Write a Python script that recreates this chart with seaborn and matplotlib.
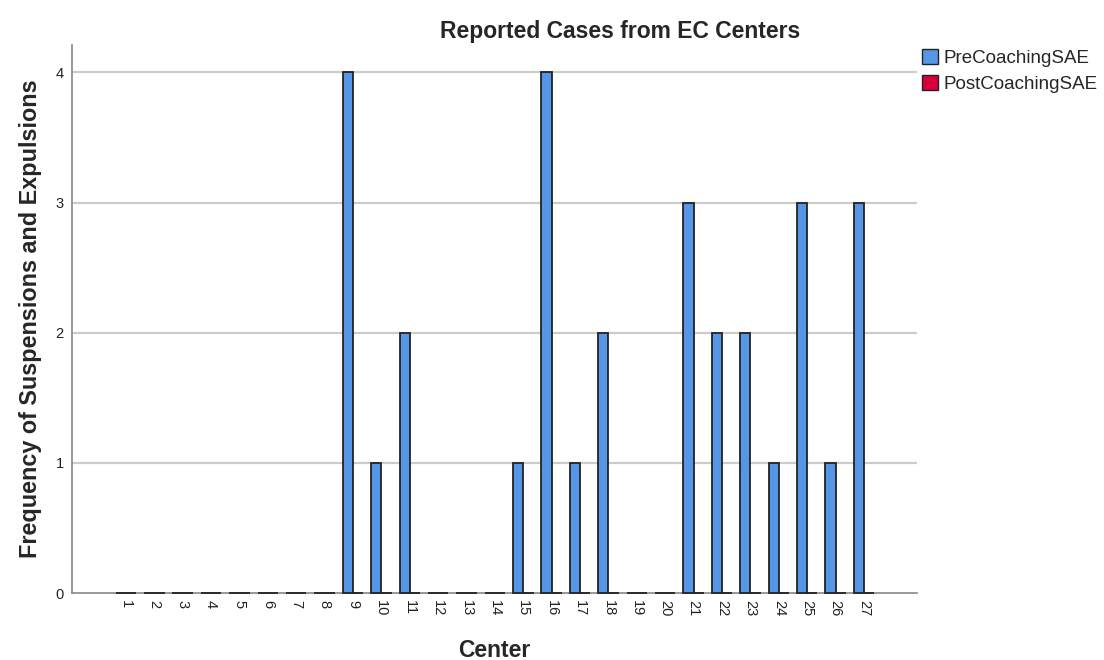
import pandas as pd
import matplotlib
matplotlib.use("Agg")
import matplotlib.pyplot as plt
import matplotlib.patches as mpatches
import seaborn as sns

# Data per center
centers = [str(i) for i in range(1, 28)]
pre_sae = [0, 0, 0, 0, 0, 0, 0, 0, 4, 1, 2, 0, 0, 0, 1, 4, 1, 2, 0, 0, 3, 2, 2, 1, 3, 1, 3]
post_sae = [0] * 27
series_names = ["PreCoachingSAE", "PostCoachingSAE"]
colors = ["#5596E6", "#D7003A"]

df = pd.DataFrame({
    "Center": centers * 2,
    "Value": pre_sae + post_sae,
    "Series": [series_names[0]] * 27 + [series_names[1]] * 27,
})

sns.set_style("white")
plt.rcParams["font.family"] = ["Liberation Sans", "DejaVu Sans"]

fig = plt.figure(figsize=(11.04, 6.6), dpi=100)
ax = fig.add_axes([0.0652, 0.1015, 0.7654, 0.8303])

# horizontal grid lines
for yv in [1, 2, 3, 4]:
    ax.axhline(yv, color="#cccccc", lw=1.6, zorder=0)

sns.barplot(
    data=df, x="Center", y="Value", hue="Series",
    order=centers, hue_order=series_names, palette=colors,
    width=0.72, edgecolor="#222222", linewidth=1.3,
    saturation=1, legend=False, ax=ax,
)
for p in ax.patches:
    p.set_zorder(3)
    p.set_clip_on(False)

ax.set_ylim(0, 4.21)
ax.set_xlim(-1.9, 27.87)
ax.set_yticks([0, 1, 2, 3, 4])
ax.tick_params(axis="y", labelsize=10.5, length=0, pad=6, labelcolor="#222222")
ax.tick_params(axis="x", labelsize=10.5, length=0, pad=5, labelcolor="#222222")
for lab in ax.get_xticklabels():
    lab.set_rotation(-90)
    lab.set_va("top")

for s in ["top", "right"]:
    ax.spines[s].set_visible(False)
for s in ["left", "bottom"]:
    ax.spines[s].set_color("#888888")
    ax.spines[s].set_linewidth(1.2)

ax.set_xlabel("Center", fontsize=16.5, fontweight="bold", labelpad=16)
ax.set_ylabel("Frequency of Suspensions and Expulsions", fontsize=16.8,
              fontweight="bold", labelpad=10)
fig.text(0.5616, 0.953, "Reported Cases from EC Centers", ha="center",
         va="center", fontsize=16.5, fontweight="bold")

handles = [mpatches.Patch(facecolor=c, edgecolor="#222222", label=n)
           for c, n in zip(colors, series_names)]
fig.legend(handles=handles, loc="upper left", bbox_to_anchor=(0.8285, 0.937),
           frameon=False, fontsize=13.5, handlelength=0.85, handleheight=0.85,
           handletextpad=0.3, labelspacing=0.4, borderaxespad=0)

fig.savefig("out.png", dpi=100)
